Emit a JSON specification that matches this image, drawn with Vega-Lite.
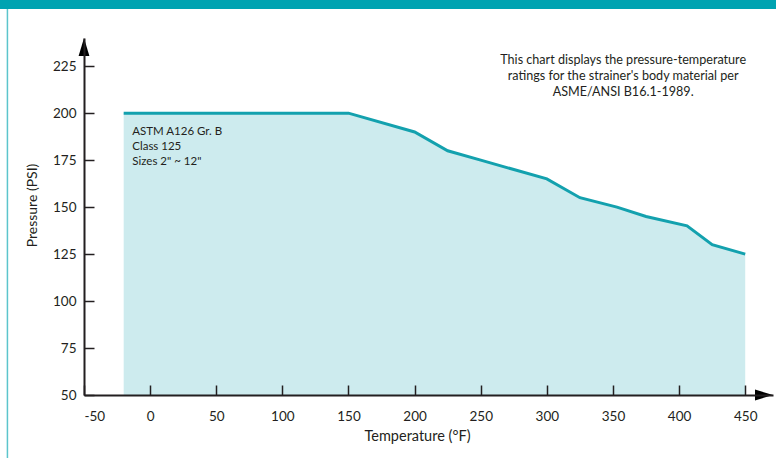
{
  "$schema": "https://vega.github.io/schema/vega-lite/v6.json",
  "autosize": "none",
  "width": 689,
  "height": 357,
  "padding": {"left": 84, "top": 38, "right": 3, "bottom": 63},
  "background": "white",
  "config": {
    "view": {"stroke": null},
    "font": "Lato",
    "axis": {
      "grid": false,
      "zindex": 1,
      "domainColor": "#231f20",
      "domainWidth": 2,
      "tickColor": "#231f20",
      "tickWidth": 1.5,
      "tickSize": -10,
      "labelColor": "#231f20",
      "labelFont": "Lato",
      "labelFontSize": 13.5,
      "titleFont": "Lato",
      "titleFontSize": 14,
      "titleFontWeight": "normal",
      "titleColor": "#231f20"
    }
  },
  "datasets": {
    "ratings": [
      {"temp": -20, "psi": 200},
      {"temp": 150, "psi": 200},
      {"temp": 200, "psi": 190},
      {"temp": 225, "psi": 180},
      {"temp": 250, "psi": 175},
      {"temp": 275, "psi": 170},
      {"temp": 300, "psi": 165},
      {"temp": 325, "psi": 155},
      {"temp": 353, "psi": 150},
      {"temp": 375, "psi": 145},
      {"temp": 406, "psi": 140},
      {"temp": 425, "psi": 130},
      {"temp": 450, "psi": 125}
    ],
    "one": [{}]
  },
  "layer": [
    {
      "data": {"name": "one"},
      "mark": {"type": "rect", "color": "#00a3b1", "clip": false},
      "encoding": {
        "x": {"datum": -120, "type": "quantitative", "scale": {"domain": [-50, 471], "nice": false, "zero": false}, "axis": {"zindex": 2, "values": [-50, 0, 50, 100, 150, 200, 250, 300, 350, 400, 450], "labelExpr": "datum.value < 0 ? '-' + abs(datum.value) : datum.label", "labelPadding": 24, "title": "Temperature (°F)", "titleFontSize": 14.5, "titlePadding": 7, "titleX": 333}},
        "x2": {"datum": 480},
        "y": {"datum": 255.4, "type": "quantitative", "scale": {"domain": [50, 240], "nice": false, "zero": false}, "axis": {"zindex": 2, "values": [50, 75, 100, 125, 150, 175, 200, 225], "labelPadding": 18, "title": "Pressure (PSI)", "titleX": -52, "titleY": 167, "titleBaseline": "middle"}},
        "y2": {"datum": 275}
      }
    },
    {
      "data": {"name": "one"},
      "mark": {"type": "rule", "color": "#5cc5cc", "strokeWidth": 1.5, "clip": false},
      "encoding": {
        "x": {"datum": -107.9, "type": "quantitative"},
        "y": {"datum": 5, "type": "quantitative"},
        "y2": {"datum": 255.4}
      }
    },
    {
      "data": {"name": "ratings"},
      "mark": {"type": "area", "color": "#cdebee", "opacity": 1},
      "encoding": {
        "x": {"field": "temp", "type": "quantitative"},
        "y": {"field": "psi", "type": "quantitative"},
        "y2": {"datum": 50}
      }
    },
    {
      "data": {"name": "ratings"},
      "mark": {"type": "line", "color": "#13a1ae", "strokeWidth": 3},
      "encoding": {
        "x": {"field": "temp", "type": "quantitative"},
        "y": {"field": "psi", "type": "quantitative"}
      }
    },
    {
      "data": {"values": [{"temp": -13.5, "psi": 188.4, "label": ["ASTM A126 Gr. B", "Class 125", "Sizes 2\" ~ 12\""]}]},
      "mark": {"type": "text", "align": "left", "baseline": "alphabetic", "fontSize": 11.5, "lineHeight": 15, "color": "#231f20", "font": "Lato"},
      "encoding": {
        "x": {"field": "temp", "type": "quantitative"},
        "y": {"field": "psi", "type": "quantitative"},
        "text": {"field": "label"}
      }
    },
    {
      "data": {"values": [{"temp": 357.7, "psi": 226.2, "label": ["This chart displays the pressure-temperature", "ratings for the strainer's body material per", "ASME/ANSI B16.1-1989."]}]},
      "mark": {"type": "text", "align": "center", "baseline": "alphabetic", "fontSize": 12.6, "lineHeight": 16, "color": "#231f20", "font": "Lato"},
      "encoding": {
        "x": {"field": "temp", "type": "quantitative"},
        "y": {"field": "psi", "type": "quantitative"},
        "text": {"field": "label"}
      }
    },
    {
      "data": {"name": "one"},
      "mark": {"type": "point", "shape": "M0,0L-0.3,1L0.3,1Z", "filled": true, "color": "#000000", "opacity": 1, "size": 1296, "clip": false},
      "encoding": {
        "x": {"datum": -50, "type": "quantitative"},
        "y": {"datum": 240, "type": "quantitative"}
      }
    },
    {
      "data": {"name": "one"},
      "mark": {"type": "point", "shape": "M0,0L-1,-0.3L-1,0.3Z", "filled": true, "color": "#000000", "opacity": 1, "size": 1296, "clip": false},
      "encoding": {
        "x": {"datum": 471, "type": "quantitative"},
        "y": {"datum": 50, "type": "quantitative"}
      }
    }
  ]
}
